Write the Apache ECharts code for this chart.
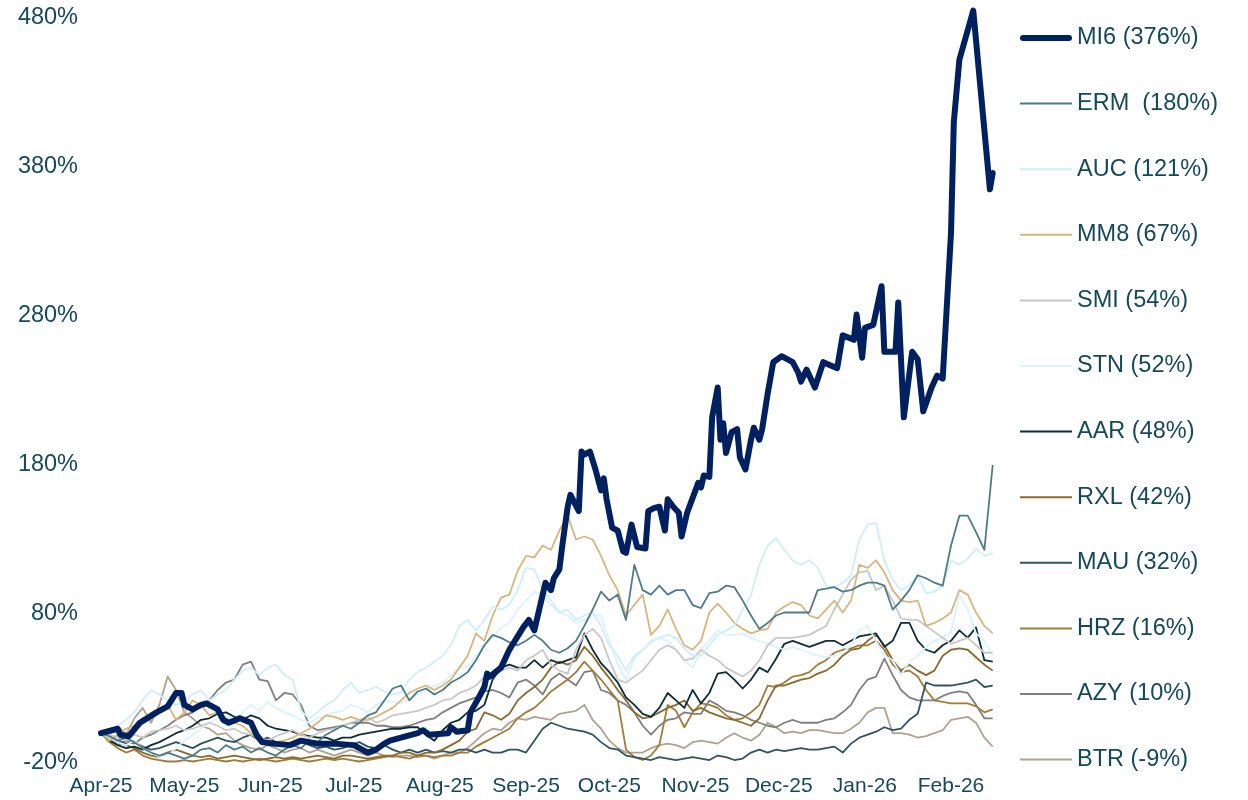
<!DOCTYPE html>
<html><head><meta charset="utf-8">
<script src="https://cdn.jsdelivr.net/npm/echarts@6/dist/echarts.min.js"></script>
<style>html,body{margin:0;padding:0;background:#fff}#c{width:1248px;height:800px}</style>
</head><body><div id="c"></div>
<script>
// ---- categories (calendar days, Apr 1 2025 .. Feb 16 2026) ----
const startUTC = Date.UTC(2025, 3, 1);
const dayCount = 322;
const gridStep = 3; // most series read every 3rd day
const monthNames = ['Jan','Feb','Mar','Apr','May','Jun','Jul','Aug','Sep','Oct','Nov','Dec'];
const yTicks = { min: -20, max: 480, interval: 100 };

// ---- series names (legend order) ----
const names = ['MI6 (376%)','ERM  (180%)','AUC (121%)','MM8 (67%)','SMI (54%)','STN (52%)',
  'AAR (48%)','RXL (42%)','MAU (32%)','HRZ (16%)','AZY (10%)','BTR (-9%)'];
const colors = ['#002060','#4e7b89','#cdeefa','#d6b67c','#c8c8c8','#d9f2fb',
  '#0d2d38','#8a6a30','#2e5561','#a07c37','#7f7f7f','#b1a18e'];

// ---- MI6: its own day index + value (% return) ----
const mi6Days = [0,6,7,10,14,20,24,27,29,30, 33,36,38,42,44,46,50,54,56,58,
  62,68,72,78,84,91,96,99,102,104, 108,114,116,118,125,126,128,132,133,136,
  138,139,140,144,147,150,152,154,156,160, 162,163,165,166,168,169,172,173,174,176,
  178,180,181,182,184,186,188,189,191,193, 196,197,199,201,203,204,206,208,209,211,
  215,216,217,219,220,222,223,224,225,227, 229,230,232,234,235,237,238,240,242,245,
  249,251,252,254,257,260,265,267,271,272, 274,275,278,281,282,286,287,289,292,294,
  296,299,301,303,306,307,309,314,320,321];
const mi6 = [0,3,-1,-2,7,14,18,27,27,19, 16,19,20,16,9,7,10,7,-1,-6,
  -7,-8,-5,-7,-7,-8,-13,-11,-7,-5, -3,0,2,-1,0,4,1,2,14,24,
  31,40,38,44,56,65,71,76,69,101, 96,104,110,125,152,160,149,189,187,189,
  177,163,171,157,138,136,122,121,140,125, 124,149,151,152,136,157,152,148,132,148,
  168,165,173,172,212,232,197,208,188,202, 204,185,177,197,205,197,204,228,249,253,
  249,242,236,244,232,249,245,267,264,281, 252,272,274,300,256,256,289,212,256,251,
  216,232,240,238,336,410,452,485,365,376];

// ---- other series: values every 3rd day (108 points) ----
const erm = [0,-2,-5,-3,-6,-10,-13,-15,-13,-15, -17,-15,-11,-10,-13,-8,-11,-9,-13,-10,
  -13,-15,-11,-8,-10,-5,-6,-1,2,5, 3,7,12,14,22,30,32,22,28,30,
  26,29,34,37,41,49,59,66,64,61, 59,62,66,62,56,54,57,62,72,83,
  95,89,93,76,113,96,93,99,93,96, 96,86,84,94,95,99,98,89,79,70,
  74,79,81,81,81,81,96,97,98,95, 96,99,101,101,99,83,89,96,106,104,
  101,99,126,146,146,135,123,180];
const auc = [0,2,5,9,14,22,29,26,22,19, 22,26,29,22,26,29,36,42,44,39,
  44,46,39,36,15,10,14,19,22,29, 34,27,29,31,28,26,27,36,41,44,
  48,52,59,72,76,69,76,85,83,86, 96,111,110,96,89,81,83,76,79,81,
  72,59,52,42,52,56,62,64,66,64, 57,52,52,59,66,69,72,83,93,113,
  126,131,123,116,113,116,111,99,98,101, 106,130,140,141,116,103,96,99,106,94,
  95,99,116,113,117,124,119,121];
const mm8 = [0,-5,-1,3,5,10,12,14,19,9, 14,22,19,12,14,10,7,5,0,-5,
  -8,-6,-5,-3,0,3,7,12,11,9, 11,9,9,11,14,17,22,27,30,32,
  29,32,36,44,52,67,62,79,91,93, 109,119,118,126,123,136,146,130,132,130,
  119,106,96,79,86,93,66,72,83,70, 59,56,62,81,87,81,74,70,67,69,
  70,81,85,88,86,79,77,83,89,81, 89,113,111,116,108,96,89,88,89,72,
  74,77,81,96,93,81,72,67];
const smi = [0,-1,-3,-5,-1,-3,1,2,3,5, 2,3,5,7,5,2,3,0,-1,-3,
  -5,-2,0,2,-1,-3,0,2,3,5, 7,9,11,7,9,12,13,14,15,17,
  19,22,23,27,29,32,38,40,42,44, 42,49,52,56,46,42,40,56,66,70,
  64,49,36,34,38,42,49,56,59,56, 49,50,56,52,49,44,41,38,42,49,
  59,64,64,64,65,66,69,72,83,93, 103,108,109,96,99,89,77,76,76,72,
  68,64,60,62,64,59,54,54];
const stn = [0,-3,-6,-8,-5,-10,-13,-16,-15,-10, -5,-1,3,7,10,12,9,14,19,15,
  21,17,14,12,9,7,10,12,14,15, 19,17,14,19,22,21,20,23,26,29,
  32,34,39,44,44,52,59,64,71,74, 83,89,95,93,86,81,79,74,76,79,
  79,62,46,36,50,56,61,64,62,56, 49,44,56,62,69,66,66,67,64,62,
  60,58,56,58,56,54,52,51,52,54, 59,69,72,62,52,49,39,48,52,58,
  62,64,68,93,83,67,62,52];
const aar = [0,-5,-8,-10,-9,-11,-8,-6,-3,0, 2,5,9,10,13,14,11,9,12,10,
  5,3,2,1,-1,-2,-3,-3,-5,-3, -3,-1,0,1,2,3,3,4,4,-1,
  -5,2,7,9,14,15,19,36,44,46, 44,44,49,44,49,47,49,51,67,56,
  47,41,34,24,19,13,11,17,27,22, 17,29,20,27,40,41,36,30,36,44,
  41,50,60,62,60,58,60,62,62,59, 62,65,66,67,58,62,74,74,62,56,
  54,59,62,69,64,71,49,48];
const rxl = [0,-3,-6,-8,-10,-13,-15,-16,-13,-11, -13,-15,-16,-15,-17,-16,-15,-16,-17,-18,
  -17,-16,-17,-16,-17,-16,-15,-16,-17,-15, -15,-16,-17,-16,-15,-15,-13,-13,-15,-13,
  -13,-11,-8,-5,1,3,14,12,9,13, 22,27,31,36,44,48,46,49,58,52,
  44,37,29,22,14,10,11,14,17,19, 22,15,17,14,12,10,9,7,5,10,
  22,32,32,34,36,37,40,42,46,52, 56,57,62,66,59,49,42,46,42,39,
  42,52,56,57,56,51,46,42];
const mau = [0,-2,-5,-7,-6,-9,-11,-10,-8,-6, -8,-10,-7,-5,-3,-5,-6,-3,-1,-5,
  -3,-6,-8,-7,-5,-8,-10,-9,-11,-10, -8,-6,-9,-10,-8,-11,-13,-11,-13,-11,
  -13,-12,-13,-11,-11,-13,-11,-13,-13,-11, -11,-13,-5,3,7,5,3,2,1,-1,
  -6,-10,-11,-15,-16,-17,-18,-16,-17,-18, -17,-16,-17,-18,-15,-16,-18,-17,-13,-11,
  -13,-11,-12,-11,-10,-11,-11,-10,-9,-13, -7,-3,-1,1,4,2,3,9,13,34,
  32,32,32,33,34,36,31,32];
const hrz = [0,-6,-10,-13,-11,-15,-17,-18,-19,-19, -18,-19,-18,-17,-18,-19,-18,-19,-18,-17,
  -18,-19,-18,-17,-18,-19,-18,-17,-18,-17, -18,-19,-18,-17,-16,-15,-16,-17,-15,-15,
  -16,-15,-15,-13,-13,-9,-6,-3,0,3, 10,14,17,22,28,32,36,41,48,42,
  36,29,22,-11,-16,-18,-15,-8,19,15, 4,14,20,19,17,12,9,10,14,19,
  32,31,34,38,39,41,46,49,54,56, 57,59,59,62,56,46,41,42,38,29,
  22,21,20,20,20,18,14,16];
const azy = [0,-3,-8,-5,-7,-3,-1,2,5,9, 12,14,19,22,29,34,36,46,48,36,
  35,22,27,26,19,5,2,3,4,5, 7,7,7,5,5,4,4,5,7,9,
  10,14,17,20,22,24,28,29,27,24, 34,36,32,26,36,40,36,32,41,42,
  29,27,22,19,14,5,-1,5,9,10, 14,13,13,22,19,15,14,12,9,7,
  5,4,7,9,7,7,7,9,10,14, 19,29,36,38,50,39,29,24,22,22,
  22,25,27,28,27,19,10,10];
const btr = [0,1,5,-1,10,17,7,19,38,29, 14,10,5,3,-1,0,-5,-8,-10,-11,
  -8,-10,-13,-11,-10,-13,-11,-13,-15,-13, -11,-13,-15,-13,-15,-16,-15,-15,-16,-15,
  -17,-15,-13,-13,-10,-5,0,3,2,7, 10,9,11,10,9,13,14,15,19,9,
  3,-5,-10,-13,-13,-13,-10,-8,-7,-8, -10,-6,-5,-6,-7,-3,0,-3,-5,-1,
  7,4,0,1,0,2,2,1,0,0, 3,7,14,17,17,0,0,-1,-3,-2,
  0,2,9,10,11,7,-3,-9];

// ---- build ----
const dates = [];
for (let i = 0; i < dayCount; i++) dates.push(new Date(startUTC + i * 86400000).toISOString().slice(0, 10));
const gridSeries = [erm, auc, mm8, smi, stn, aar, rxl, mau, hrz, azy, btr];
const textColor = '#14495a';
const thickW = 6, thinW = 1.8;

const series = [];
series.push({
  name: names[0], type: 'line', symbol: 'none', showSymbol: false, clip: false, silent: true,
  data: mi6Days.map((d, i) => [dates[d], mi6[i]]),
  lineStyle: { color: colors[0], width: thickW, cap: 'round', join: 'round' },
  itemStyle: { color: colors[0] }, z: 5
});
gridSeries.forEach((vals, s) => {
  series.push({
    name: names[s + 1], type: 'line', symbol: 'none', showSymbol: false, clip: false, silent: true,
    data: vals.map((v, k) => [dates[k * gridStep], v]),
    lineStyle: { color: colors[s + 1], width: thinW, join: 'round' },
    itemStyle: { color: colors[s + 1] }, z: 2
  });
});
series.reverse();

// legend swatches: flat bars (rounded for the thick one)
const thinIcon = 'path://M0,0h52v2h-52z';
const thickIcon = 'path://M3,0h46a3,3 0 0 1 0,6h-46a3,3 0 0 1 0,-6z';
const legendData = names.map((n, i) => ({
  name: n, icon: i === 0 ? thickIcon : thinIcon, itemStyle: { color: colors[i] }
}));

const chart = echarts.init(document.getElementById('c'), null, { renderer: 'canvas' });
chart.setOption({
  animation: false,
  backgroundColor: '#fff',
  grid: { left: 101, right: 255.3, top: 18, bottom: 37 },
  xAxis: {
    type: 'category', data: dates, boundaryGap: false,
    axisLine: { show: false }, axisTick: { show: false }, splitLine: { show: false },
    axisLabel: {
      interval: (idx, val) => val.slice(8) === '01',
      formatter: (val) => monthNames[+val.slice(5, 7) - 1] + '-' + val.slice(2, 4),
      color: textColor, fontSize: 21, fontFamily: 'Liberation Sans, Arial, sans-serif', margin: 13
    }
  },
  yAxis: {
    type: 'value', min: yTicks.min, max: yTicks.max, interval: yTicks.interval,
    axisLine: { show: false }, axisTick: { show: false }, splitLine: { show: false },
    axisLabel: { formatter: '{value}%', color: textColor, fontSize: 23.5,
      fontFamily: 'Liberation Sans, Arial, sans-serif', margin: 23 }
  },
  legend: {
    data: legendData, orient: 'vertical', left: 1020, top: 25, padding: 0,
    itemWidth: 52, itemHeight: 14, itemGap: 39.6, selectedMode: false, symbolKeepAspect: true,
    textStyle: { color: textColor, fontSize: 23.5, lineHeight: 26,
      fontFamily: 'Liberation Sans, Arial, sans-serif' }
  },
  series: series
});
</script></body></html>
